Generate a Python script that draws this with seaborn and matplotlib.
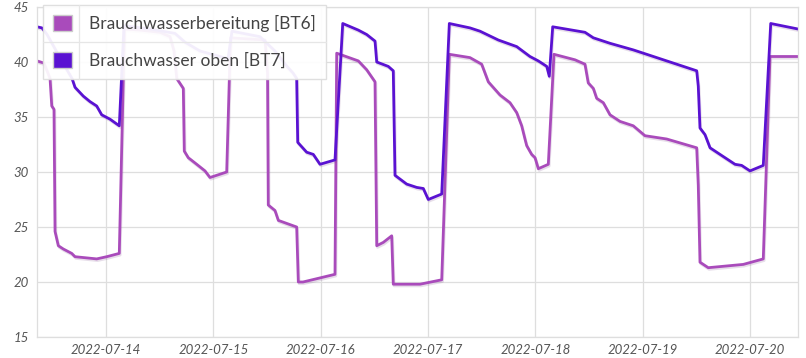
import matplotlib
matplotlib.use("Agg")
import matplotlib.dates as mdates
import matplotlib.patheffects as pe
import matplotlib.pyplot as plt
import pandas as pd
import seaborn as sns
from matplotlib.lines import Line2D
from matplotlib.patches import Patch

# Brauchwasserbereitung [BT6]
bt6_time = [
    "2022-07-13 08:34", "2022-07-13 10:08", "2022-07-13 11:29", "2022-07-13 11:52",
    "2022-07-13 12:22", "2022-07-13 12:36", "2022-07-13 13:20", "2022-07-13 14:27",
    "2022-07-13 16:20", "2022-07-13 17:04", "2022-07-13 21:55", "2022-07-14 00:09",
    "2022-07-14 02:58", "2022-07-14 04:07", "2022-07-14 07:36", "2022-07-14 12:04",
    "2022-07-14 14:19", "2022-07-14 15:12", "2022-07-14 15:49", "2022-07-14 17:17",
    "2022-07-14 17:30", "2022-07-14 18:24", "2022-07-14 20:17", "2022-07-14 22:08",
    "2022-07-14 23:15", "2022-07-15 02:59", "2022-07-15 03:50", "2022-07-15 11:33",
    "2022-07-15 12:07", "2022-07-15 12:17", "2022-07-15 13:47", "2022-07-15 14:32",
    "2022-07-15 18:38", "2022-07-15 19:00", "2022-07-15 20:03", "2022-07-16 03:12",
    "2022-07-16 03:35", "2022-07-16 08:25", "2022-07-16 10:17", "2022-07-16 12:09",
    "2022-07-16 12:32", "2022-07-16 14:00", "2022-07-16 15:53", "2022-07-16 16:14",
    "2022-07-16 22:13", "2022-07-17 03:04", "2022-07-17 04:46", "2022-07-17 09:23",
    "2022-07-17 12:00", "2022-07-17 13:29", "2022-07-17 16:06", "2022-07-17 18:20",
    "2022-07-17 19:50", "2022-07-17 20:57", "2022-07-17 21:41", "2022-07-17 22:04",
    "2022-07-17 23:11", "2022-07-17 23:56", "2022-07-18 00:40", "2022-07-18 02:54",
    "2022-07-18 04:10", "2022-07-18 08:52", "2022-07-18 11:06", "2022-07-18 11:50",
    "2022-07-18 12:58", "2022-07-18 13:43", "2022-07-18 15:12", "2022-07-18 16:42",
    "2022-07-18 18:56", "2022-07-18 21:54", "2022-07-19 00:31", "2022-07-19 05:22",
    "2022-07-19 12:05", "2022-07-19 12:26", "2022-07-19 12:49", "2022-07-19 14:40",
    "2022-07-19 22:30", "2022-07-20 02:58", "2022-07-20 04:28", "2022-07-20 10:44",
]
bt6_temp = [
    40.1, 39.9, 38.5, 36.0,
    35.7, 24.6, 23.3, 23.0,
    22.6, 22.3, 22.1, 22.3,
    22.6, 43.0, 42.9, 42.7,
    42.3, 41.0, 38.5, 37.6,
    31.9, 31.3, 30.7, 30.1,
    29.5, 30.0, 42.2, 42.0,
    39.0, 27.0, 26.5, 25.6,
    25.0, 20.0, 20.0, 20.7,
    40.8, 40.1, 39.3, 38.2,
    23.3, 23.6, 24.2, 19.8,
    19.8, 20.2, 40.7, 40.4,
    39.8, 38.2, 37.0, 36.3,
    35.4, 34.2, 33.0, 32.4,
    31.6, 31.3, 30.3, 30.7,
    40.7, 40.2, 39.8, 38.1,
    37.6, 36.7, 36.3, 35.2,
    34.6, 34.2, 33.3, 33.0,
    32.2, 28.8, 21.8, 21.3,
    21.6, 22.1, 40.5, 40.5,
]

# Brauchwasser oben [BT7]
bt7_time = [
    "2022-07-13 08:34", "2022-07-13 09:41", "2022-07-13 10:49", "2022-07-13 12:36",
    "2022-07-13 14:23", "2022-07-13 16:24", "2022-07-13 17:04", "2022-07-13 18:55",
    "2022-07-13 20:25", "2022-07-13 21:55", "2022-07-13 23:02", "2022-07-14 00:54",
    "2022-07-14 02:58", "2022-07-14 04:01", "2022-07-14 09:50", "2022-07-14 15:26",
    "2022-07-14 17:40", "2022-07-14 21:01", "2022-07-15 03:17", "2022-07-15 04:10",
    "2022-07-15 10:26", "2022-07-15 13:47", "2022-07-15 16:28", "2022-07-15 17:49",
    "2022-07-15 18:38", "2022-07-15 18:52", "2022-07-15 20:52", "2022-07-15 22:21",
    "2022-07-15 23:51", "2022-07-16 03:12", "2022-07-16 04:56", "2022-07-16 08:25",
    "2022-07-16 10:17", "2022-07-16 12:09", "2022-07-16 12:32", "2022-07-16 15:07",
    "2022-07-16 16:14", "2022-07-16 16:37", "2022-07-16 19:14", "2022-07-16 21:28",
    "2022-07-16 22:57", "2022-07-17 00:04", "2022-07-17 03:04", "2022-07-17 04:46",
    "2022-07-17 09:23", "2022-07-17 11:38", "2022-07-17 15:43", "2022-07-17 19:50",
    "2022-07-17 22:48", "2022-07-18 00:40", "2022-07-18 02:33", "2022-07-18 03:07",
    "2022-07-18 03:53", "2022-07-18 11:06", "2022-07-18 12:58", "2022-07-18 16:42",
    "2022-07-18 21:54", "2022-07-19 00:54", "2022-07-19 12:05", "2022-07-19 12:26",
    "2022-07-19 12:49", "2022-07-19 13:56", "2022-07-19 15:04", "2022-07-19 17:40",
    "2022-07-19 20:39", "2022-07-19 22:08", "2022-07-20 00:00", "2022-07-20 02:58",
    "2022-07-20 04:38", "2022-07-20 10:44",
]
bt7_temp = [
    43.2, 43.1, 42.5, 41.2,
    39.9, 38.5, 37.7, 36.9,
    36.4, 36.0, 35.2, 34.8,
    34.2, 43.3, 43.0, 42.6,
    41.8, 41.0, 40.3, 42.8,
    42.3, 41.0, 39.6, 39.0,
    38.5, 32.7, 31.8, 31.6,
    30.7, 31.1, 43.5, 42.9,
    42.5, 41.9, 40.0, 39.6,
    39.2, 29.7, 28.9, 28.6,
    28.5, 27.5, 28.0, 43.5,
    43.1, 42.8, 42.0, 41.4,
    40.5, 40.1, 39.6, 38.7,
    43.2, 42.7, 42.2, 41.7,
    41.1, 40.7, 39.2, 37.8,
    34.0, 33.4, 32.2, 31.5,
    30.7, 30.6, 30.1, 30.6,
    43.5, 43.0,
]

labels = ["Brauchwasserbereitung [BT6]", "Brauchwasser oben [BT7]"]
colors = ["#a94bbb", "#5a12d2"]

df = pd.concat([
    pd.DataFrame({"time": pd.to_datetime(bt6_time), "temp": bt6_temp, "sensor": labels[0]}),
    pd.DataFrame({"time": pd.to_datetime(bt7_time), "temp": bt7_temp, "sensor": labels[1]}),
])

sns.set_style("whitegrid")
plt.rcParams["font.family"] = ["Lato", "DejaVu Sans"]

fig = plt.figure(figsize=(8.06, 3.58), dpi=100)
ax = fig.add_axes([37 / 806, 1 - 337 / 358, 761 / 806, 330 / 358])

sns.lineplot(
    data=df, x="time", y="temp", hue="sensor", hue_order=labels,
    palette=colors, linewidth=2, legend=False, ax=ax, estimator=None, sort=False,
)
# soft shadow like the original web chart
for line in ax.get_lines():
    line.set_path_effects([
        pe.SimpleLineShadow(offset=(0.6, -1.2), alpha=0.18, shadow_color="#7a4a8a"),
        pe.Normal(),
    ])

ax.set_xlim(pd.Timestamp("2022-07-13 08:34"), pd.Timestamp("2022-07-20 10:44"))
ax.set_ylim(15, 45)
ax.set_yticks(range(15, 46, 5))
ax.xaxis.set_major_locator(mdates.DayLocator())
ax.xaxis.set_major_formatter(mdates.DateFormatter("%Y-%m-%d"))
ax.set_xlabel("")
ax.set_ylabel("")

ax.grid(True, color="#dedede", linewidth=0.9)
for side in ["left", "right", "top", "bottom"]:
    ax.spines[side].set_color("#dedede")
    ax.spines[side].set_linewidth(0.9)
ax.tick_params(axis="both", length=0, colors="#555555", labelsize=9.5)
ax.tick_params(axis="y", pad=6)
ax.tick_params(axis="x", pad=5)
for lab in ax.get_xticklabels() + ax.get_yticklabels():
    lab.set_fontstyle("italic")

handles = [Patch(facecolor=c, edgecolor="#cccccc", linewidth=1) for c in colors]
leg = ax.legend(
    handles, labels, loc="upper left", bbox_to_anchor=(0.008, 1.006),
    borderaxespad=0, fontsize=12.5, frameon=True, fancybox=False,
    framealpha=0.93, edgecolor="#dddddd", handlelength=1.1, handleheight=1.1,
    labelspacing=1.15, borderpad=0.55, handletextpad=1.0,
)
for t in leg.get_texts():
    t.set_color("#444444")

# thin cell separators inside the legend box (table-style legend)
fig.canvas.draw()
inv = fig.transFigure.inverted()
lb = leg.get_window_extent()
hb = leg.legend_handles[0].get_window_extent()
hb2 = leg.legend_handles[1].get_window_extent()
ymid = (hb.y0 + hb2.y1) / 2
xsep = hb.x1 + 7
(x0, y0) = inv.transform((lb.x0, lb.y0))
(x1, y1) = inv.transform((lb.x1, lb.y1))
(xs, ym) = inv.transform((xsep, ymid))
for xx, yy in [([x0, x1], [ym, ym]), ([xs, xs], [y0, y1])]:
    fig.add_artist(Line2D(xx, yy, transform=fig.transFigure, color="#e6e6e6",
                          linewidth=0.9, zorder=10))

fig.savefig("out.png", dpi=100)
